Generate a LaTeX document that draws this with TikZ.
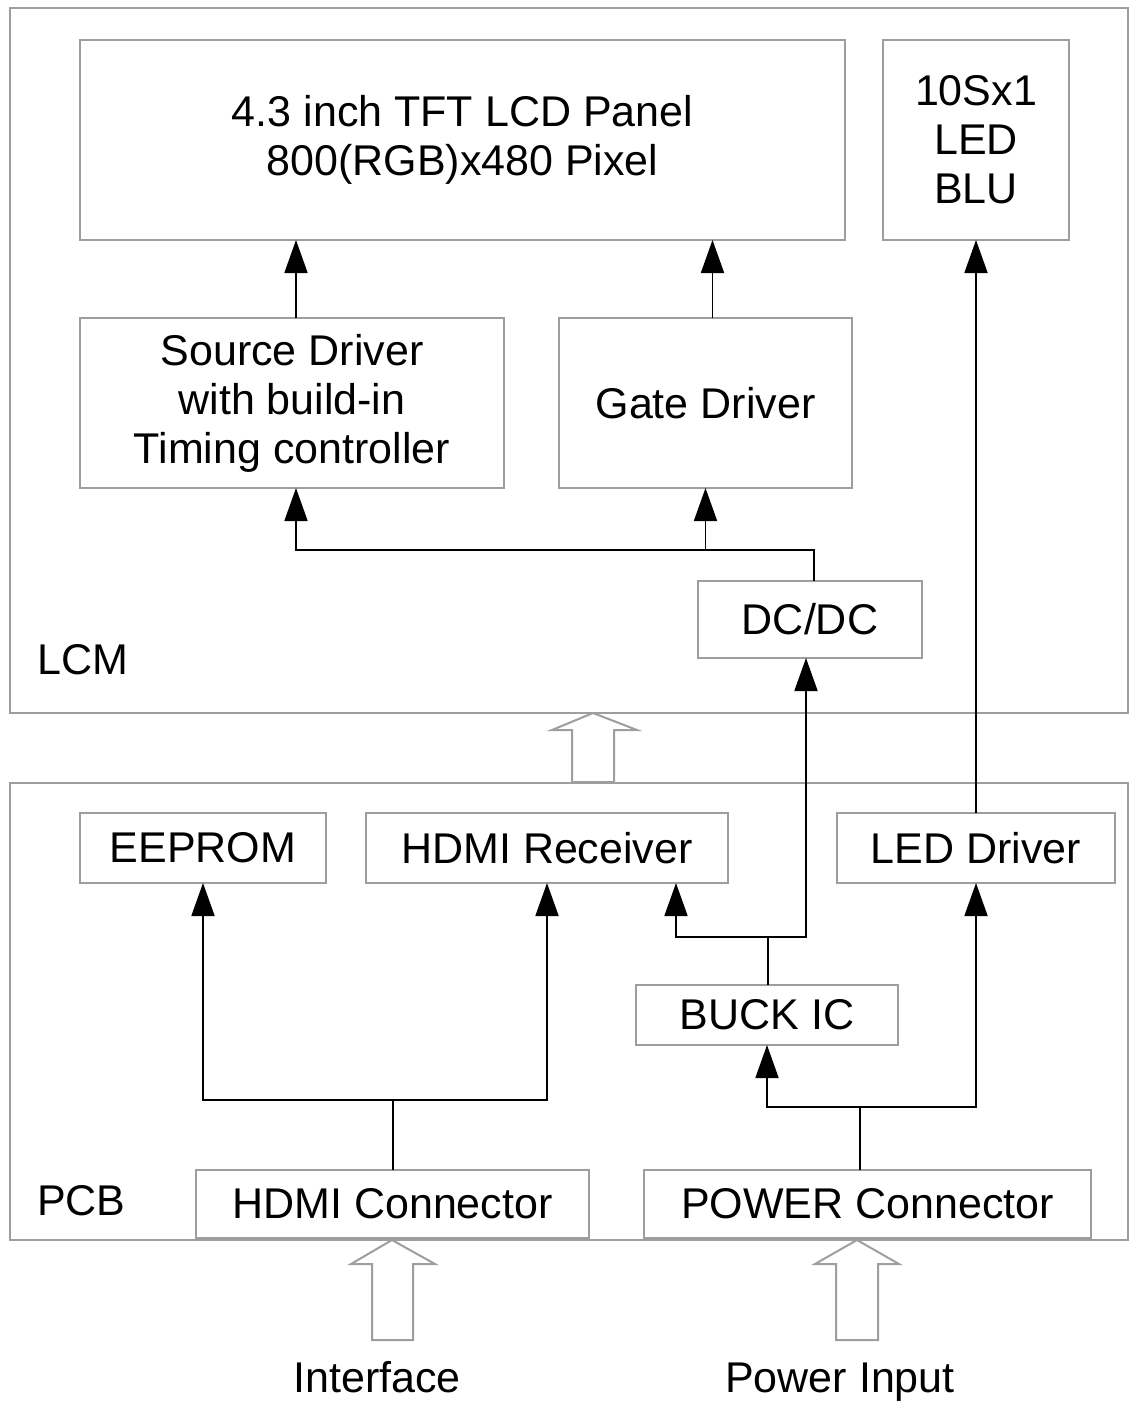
\documentclass[tikz,border=0pt]{standalone}
\usepackage{fontspec}
\setmainfont{Liberation Sans}
\usetikzlibrary{arrows.meta,calc}
\begin{document}
\begin{tikzpicture}[x=1pt,y=-1pt,
  box/.style={draw=black!38,line width=2pt,fill=white,inner sep=0pt,outer sep=0pt,anchor=north west,align=center,font=\fontsize{43}{49}\selectfont},
  frame/.style={draw=black!38,line width=2pt},
  arr/.style={draw=black,line width=1.8pt,-{Triangle[width=23pt,length=33pt]}},
  conn/.style={draw=black,line width=1.8pt},
  hollow/.style={draw=black!38,line width=2pt,fill=white,line join=miter},
  lbl/.style={font=\fontsize{43}{49}\selectfont,inner sep=0pt}]
\useasboundingbox (0,0) rectangle (1129,1403);
% outer frames
\draw[frame] (10,8) rectangle (1128,713);
\draw[frame] (10,783) rectangle (1128,1240);
\node[lbl,anchor=west] (lcm) at (37,660) {LCM};
\node[lbl,anchor=west] (pcb) at (37,1201) {PCB};
% LCM boxes
\node[box,minimum width=765pt,minimum height=200pt] (panel) at (80,40) {4.3 inch TFT LCD Panel\\800(RGB)x480 Pixel};
\node[box,minimum width=186pt,minimum height=200pt] (blu) at (883,40) {10Sx1\\LED\\BLU};
\node[box,minimum width=424pt,minimum height=170pt] (src) at (80,318) {Source Driver\\with build-in\\Timing controller};
\node[box,minimum width=293pt,minimum height=170pt] (gate) at (559,318) {Gate Driver};
\node[box,minimum width=224pt,minimum height=77pt] (dcdc) at (698,581) {DC/DC};
% PCB boxes
\node[box,minimum width=246pt,minimum height=70pt] (eeprom) at (80,813) {EEPROM};
\node[box,minimum width=362pt,minimum height=70pt] (hdmirx) at (366,813) {HDMI Receiver};
\node[box,minimum width=278pt,minimum height=70pt] (led) at (837,813) {LED Driver};
\node[box,minimum width=262pt,minimum height=60pt] (buck) at (636,985) {BUCK IC};
\node[box,minimum width=393pt,minimum height=68pt] (hdmic) at (196,1170) {HDMI Connector};
\node[box,minimum width=447pt,minimum height=68pt] (pwrc) at (644,1170) {POWER Connector};
% inputs
\node[lbl,anchor=base] (iface) at (377,1392) {Interface};
\node[lbl,anchor=base] (pin) at (840,1392) {Power Input};
% hollow arrows
\draw[hollow] (593,713) -- (637,730) -- (614,730) -- (614,782) -- (572,782) -- (572,730) -- (552,730) -- cycle;
\draw[hollow] (392,1240) -- (435,1264) -- (413,1264) -- (413,1340) -- (372,1340) -- (372,1264) -- (351,1264) -- cycle;
\draw[hollow] (857,1240) -- (899,1264) -- (878,1264) -- (878,1340) -- (836,1340) -- (836,1264) -- (815,1264) -- cycle;
% connectors in LCM
\draw[arr] ([xshift=4pt]src.north) -- ([xshift=4pt]src.north |- panel.south);
\draw[arr] ([xshift=7pt]gate.north) -- ([xshift=7pt]gate.north |- panel.south);
\draw[arr] (led.north) -- (blu.south);
\coordinate (j1) at (814,550);
\draw[arr] (dcdc.north -| j1) -- (j1) -| ([xshift=4pt]src.south);
\draw[arr] (j1 -| gate.south) -- (gate.south);
% connectors in PCB
\coordinate (j2) at (768,937);
\draw[conn] (buck.north -| j2) -- (j2);
\draw[arr] (j2) -| ([xshift=-4pt]dcdc.south);
\draw[arr] (j2) -| (676,883);
\coordinate (j3) at (393,1100);
\draw[conn] (hdmic.north -| j3) -- (j3);
\draw[arr] (j3) -| (eeprom.south);
\draw[arr] (j3) -| (hdmirx.south);
\coordinate (j4) at (860,1107);
\draw[conn] (pwrc.north -| j4) -- (j4);
\draw[arr] (j4) -| (buck.south);
\draw[arr] (j4) -| (led.south);
\end{tikzpicture}
\end{document}
